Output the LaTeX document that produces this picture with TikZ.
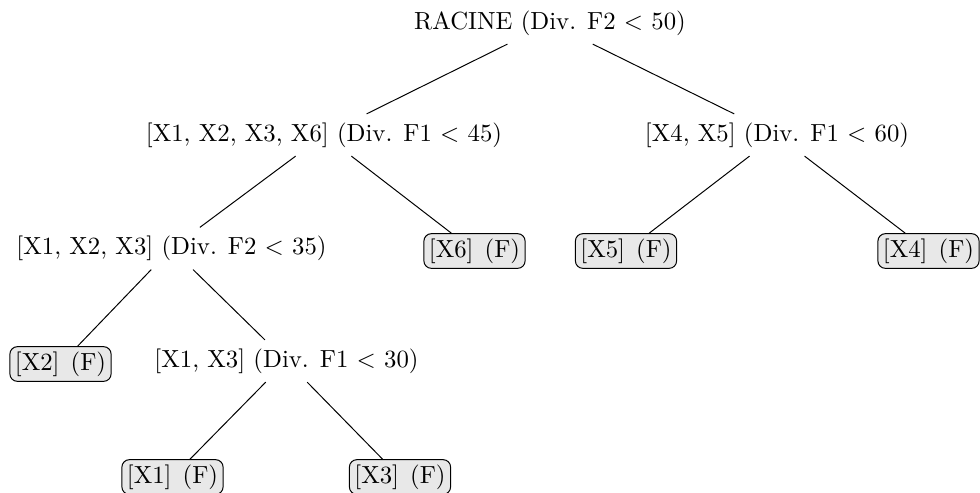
\documentclass[tikz,border=0pt]{standalone}
\begin{document}
\begin{tikzpicture}[x=0.404pt,y=-0.404pt,
  split/.style={inner sep=3.333pt},
  leaf/.style={draw, rounded corners=3pt, fill=gray!18, inner sep=2pt},
  edge/.style={draw, line width=0.4pt}]
\useasboundingbox (0,0) rectangle (980,492);
% level 0
\node[split] (r) at (550,23) {RACINE (Div. F2 $<$ 50)};
% level 1
\node[split] (a) at (324,135) {[X1, X2, X3, X6] (Div. F1 $<$ 45)};
\node[split] (b) at (777,135) {[X4, X5] (Div. F1 $<$ 60)};
% level 2
\node[split] (c) at (171.5,248.5) {[X1, X2, X3] (Div. F2 $<$ 35)};
\node[leaf] (x6) at (474.5,251) {[X6]\hspace{0.45em}(F)};
\node[leaf] (x5) at (626,251) {[X5]\hspace{0.45em}(F)};
\node[leaf] (x4) at (928.5,251) {[X4]\hspace{0.45em}(F)};
% level 3
\node[leaf] (x2) at (60.5,364) {[X2]\hspace{0.45em}(F)};
\node[split] (d) at (286.5,361) {[X1, X3] (Div. F1 $<$ 30)};
% level 4
\node[leaf] (x1) at (172.5,477) {[X1]\hspace{0.45em}(F)};
\node[leaf] (x3) at (400,477) {[X3]\hspace{0.45em}(F)};
% edges
\draw[edge] (r) -- (a);
\draw[edge] (r) -- (b);
\draw[edge] (a) -- (c);
\draw[edge] (a) -- (x6);
\draw[edge] (b) -- (x5);
\draw[edge] (b) -- (x4);
\draw[edge] (c) -- (x2);
\draw[edge] (c) -- (d);
\draw[edge] (d) -- (x1);
\draw[edge] (d) -- (x3);
\end{tikzpicture}
\end{document}
